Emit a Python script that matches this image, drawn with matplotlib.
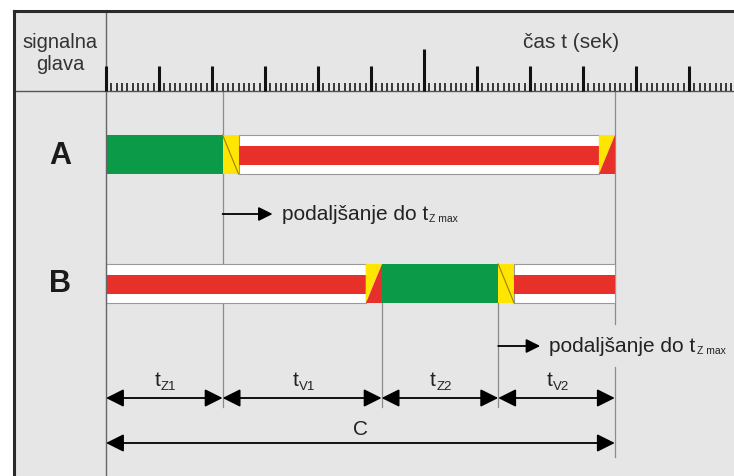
import matplotlib.pyplot as plt
from matplotlib.patches import Rectangle, Polygon

plt.rcParams['font.family'] = ['Liberation Sans', 'DejaVu Sans']

# time scale in seconds
t_end = 118
major_step = 10
long_tick = 60

# signal phases per signal head: (kind, start, end) in s
heads = ['A', 'B']
phases_A = [('green', 0, 22), ('yellow', 22, 25), ('red', 25, 93), ('redyellow', 93, 96)]
phases_B = [('red', 0, 49), ('redyellow', 49, 52), ('green', 52, 74), ('yellow', 74, 77), ('red', 77, 96)]

split_times = [0, 22, 52, 74, 96]
split_labels = ['Z1', 'V1', 'Z2', 'V2']
cycle = 96
extend_at = [22, 74]

GREEN = '#0b9a48'
RED = '#e8302b'
YELLOW = '#ffe500'
BG = '#e6e6e6'
GUIDE = '#8c8c8c'
TXT = '#222222'

PX = 5.3  # pixels per second
T0 = 20   # seconds to the left of t=0


def px(x):
    # pixel column -> data x
    return x / PX - T0


def sub_text(ax, x, y, base, sub, size, subsize, ha='left', dx=0.5, dy=0.5):
    # base text followed by a small subscript sitting on the descent line
    t = ax.text(x, y, base, ha=ha, va='center', fontsize=size, color=TXT)
    ax.annotate(sub, xy=(1, 0), xycoords=t, xytext=(dx, dy), textcoords='offset points',
                ha='left', va='baseline', fontsize=subsize, color=TXT)
    return t


fig = plt.figure(figsize=(7.34, 4.77), dpi=100)
ax = fig.add_axes([0, 0, 1, 1])
ax.set_xlim(-T0, 734 / PX - T0)
ax.set_ylim(477, 0)
ax.axis('off')

# frame
ax.add_patch(Rectangle((px(14), 12), px(734) - px(14), 470, facecolor=BG, edgecolor='none', zorder=0))
ax.plot([px(14), px(734)], [12, 12], color='#2b2b2b', lw=2.2, zorder=5)
ax.plot([px(14), px(14)], [12, 477], color='#2b2b2b', lw=2.2, zorder=5)
ax.plot([px(14), px(734)], [92, 92], color='#555555', lw=1, zorder=3)
ax.plot([0, 0], [12, 477], color='#666666', lw=1, zorder=3)

# header
ax.text(px(60), 53, 'signalna\nglava', ha='center', va='center', fontsize=14.5,
        color='#333333', linespacing=1.2)
ax.text(px(571), 43, 'čas t (sek)', ha='center', va='center', fontsize=15, color='#333333')

minor = [t for t in range(0, t_end + 1) if t % major_step != 0]
major = [t for t in range(0, t_end + 1, major_step) if t != long_tick]
ax.vlines(minor, 84, 92, color='#2a2a2a', lw=1.3, zorder=4)
ax.vlines(major, 67, 92, color='#111111', lw=2.2, zorder=4)
ax.vlines([long_tick], 50, 92, color='#111111', lw=2.2, zorder=4)

# guide lines
ax.plot([split_times[1]] * 2, [92, 408], color=GUIDE, lw=0.9, zorder=1)
ax.plot([split_times[2]] * 2, [304, 408], color=GUIDE, lw=0.9, zorder=1)
ax.plot([split_times[3]] * 2, [304, 408], color=GUIDE, lw=0.9, zorder=1)
ax.plot([cycle] * 2, [92, 325], color=GUIDE, lw=0.9, zorder=1)
ax.plot([cycle] * 2, [368, 458], color=GUIDE, lw=0.9, zorder=1)

# phase bars
bar_top = {'A': 136, 'B': 265}
bar_h = 39
label_y = {'A': 156, 'B': 284}
for head, phases in zip(heads, [phases_A, phases_B]):
    y0 = bar_top[head]
    y1 = y0 + bar_h
    ax.text(px(60), label_y[head], head, ha='center', va='center', fontsize=22,
            fontweight='bold', color='#1a1a1a')
    for kind, s, e in phases:
        if kind == 'green':
            ax.add_patch(Rectangle((s, y0), e - s, bar_h, facecolor=GREEN, edgecolor='none', zorder=2))
        elif kind == 'red':
            ax.add_patch(Rectangle((s, y0), e - s, bar_h, facecolor='white', edgecolor='#999999',
                                   lw=0.8, zorder=2))
            ax.add_patch(Rectangle((s, y0 + 11), e - s, 19, facecolor=RED, edgecolor='none', zorder=2))
        elif kind == 'yellow':
            ax.add_patch(Rectangle((s, y0), e - s, bar_h, facecolor=YELLOW, edgecolor='none', zorder=2))
            ax.plot([s, e], [y0, y1], color='#9a7f10', lw=0.8, zorder=3)
        else:
            ax.add_patch(Polygon([(s, y0), (e, y0), (s, y1)], closed=True, facecolor=YELLOW,
                                 edgecolor='none', zorder=2))
            ax.add_patch(Polygon([(e, y0), (e, y1), (s, y1)], closed=True, facecolor=RED,
                                 edgecolor='none', zorder=2))

# extension arrows
ext_y = [215, 347]
ext_len = [50 / PX, 42 / PX]
for t, y, ln in zip(extend_at, ext_y, ext_len):
    ax.annotate('', xy=(t + ln, y), xytext=(t, y),
                arrowprops=dict(arrowstyle='-|>,head_length=0.6,head_width=0.3', mutation_scale=14,
                                color='black', lw=1.3, shrinkA=0, shrinkB=0))
    sub_text(ax, t + ln + 9 / PX, y, 'podaljšanje do t', 'Z max', 15, 7.5, dx=0.8, dy=2)

# dimension arrows
dim_style = dict(arrowstyle='<|-|>,head_length=0.6,head_width=0.3', mutation_scale=18,
                 color='black', lw=1.3, shrinkA=0, shrinkB=0)
for s, e, lab in zip(split_times[:-1], split_times[1:], split_labels):
    ax.annotate('', xy=(e, 399), xytext=(s, 399), arrowprops=dim_style)
    sub_text(ax, (s + e) / 2 - 4 / PX, 381, 't', lab, 15, 9.5, ha='right', dx=0.3)
ax.annotate('', xy=(cycle, 444), xytext=(0, 444), arrowprops=dim_style)
ax.text(cycle / 2, 430, 'C', ha='center', va='center', fontsize=15, color=TXT)

fig.savefig('out.png', dpi=100, facecolor='white')
